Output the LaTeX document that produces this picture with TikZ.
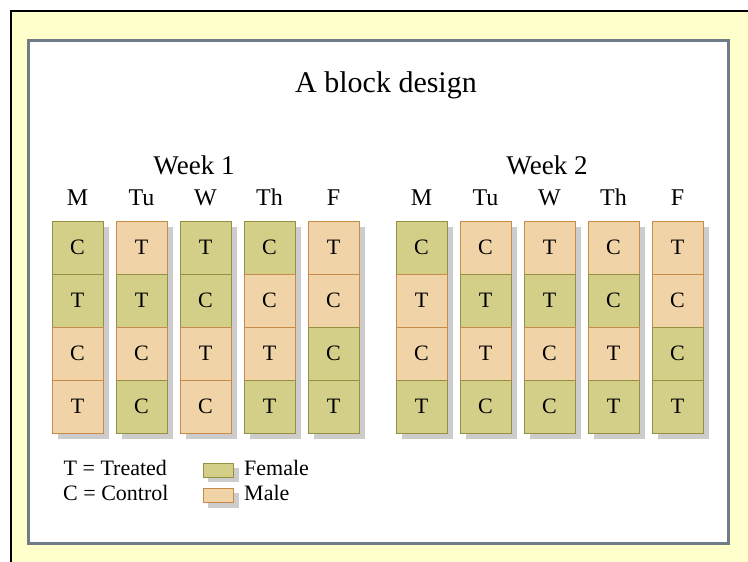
\documentclass[tikz,border=0pt]{standalone}
\usepackage{fontspec}
\setmainfont{Liberation Serif}

\definecolor{femfill}{RGB}{211,206,136}
\definecolor{femline}{RGB}{150,145,65}
\definecolor{malfill}{RGB}{240,211,166}
\definecolor{malline}{RGB}{198,138,74}
\definecolor{shadowgray}{RGB}{204,204,204}
\definecolor{paleyellow}{RGB}{255,255,204}
\definecolor{slate}{RGB}{112,125,135}

\tikzset{
 cell/.style={draw, line width=1pt, minimum width=51pt, minimum height=53pt, inner sep=0pt, font=\fontsize{22}{26}\selectfont},
 fem/.style={cell, fill=femfill, draw=femline},
 mal/.style={cell, fill=malfill, draw=malline},
 day/.style={anchor=base, inner sep=0pt, font=\fontsize{24}{28}\selectfont},
 week/.style={anchor=base, inner sep=0pt, font=\fontsize{27}{32}\selectfont},
 keytext/.style={anchor=base west, inner sep=0pt, font=\fontsize{22}{26}\selectfont},
}

\begin{document}
\begin{tikzpicture}[x=1pt,y=-1pt]
\useasboundingbox (0,0) rectangle (748,562);
\clip (0,0) rectangle (748,562);
% frames
\fill[white] (0,0) rectangle (748,562);
\draw[line width=2.5pt, fill=paleyellow] (10.8,10.8) rectangle (770,580);
\draw[line width=3pt, draw=slate, fill=white] (28.5,40.5) rectangle (728.5,543.5);

\node[anchor=base, inner sep=0pt, font=\fontsize{30}{36}\selectfont] (title) at (386,92) {A block design};
\node[week] (week1) at (194,174) {Week 1};
\node[week] (week2) at (547,174) {Week 2};

% one column per day: left edge / day / cells from top to bottom
\foreach \x/\dayname/\cells [count=\i] in {
  52/M/{fem/C,fem/T,mal/C,mal/T},
  116/Tu/{mal/T,fem/T,mal/C,fem/C},
  180/W/{fem/T,fem/C,mal/T,mal/C},
  244/Th/{fem/C,mal/C,mal/T,fem/T},
  308/F/{mal/T,mal/C,fem/C,fem/T},
  396/M/{fem/C,mal/T,mal/C,fem/T},
  460/Tu/{mal/C,fem/T,mal/T,fem/C},
  524/W/{mal/T,fem/T,mal/C,fem/C},
  588/Th/{mal/C,fem/C,mal/T,fem/T},
  652/F/{mal/T,mal/C,fem/C,fem/T}} {
 \node[day] (day\i) at (\x+25.5,205) {\dayname};
 \fill[shadowgray] (\x+5.5,226.5) rectangle (\x+56.5,438.5);
 \foreach \s/\t [count=\r] in \cells
  \node[\s] (cell\i-\r) at (\x+25.5,194.5+53*\r) {\t};
}

% key
\node[keytext] (treated) at (63.5,475) {T = Treated};
\node[keytext] (control) at (63,500) {C = Control};
\fill[shadowgray] (208,468) rectangle (239,482);
\node[fem, minimum width=30pt, minimum height=14pt] (femkey) at (218,470) {};
\fill[shadowgray] (208,493) rectangle (239,507.5);
\node[mal, minimum width=30pt, minimum height=14pt] (malkey) at (218,495.5) {};
\node[keytext] (female) at (244,475) {Female};
\node[keytext] (male) at (244,500) {Male};
\end{tikzpicture}
\end{document}
